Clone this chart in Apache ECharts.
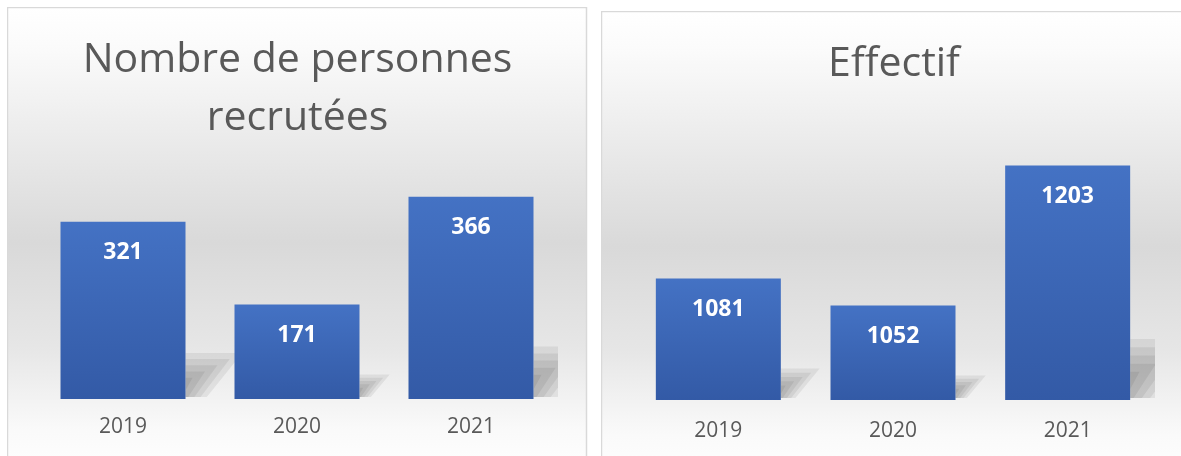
<!DOCTYPE html>
<html>
<head>
<meta charset="utf-8">
<script src="https://cdn.jsdelivr.net/npm/echarts@6/dist/echarts.min.js"></script>
<style>
  html, body { margin: 0; padding: 0; background: #ffffff; overflow: hidden; }
  #chart-container-1 { position: absolute; left: 7px; top: 7px; width: 581px; height: 449px; }
  #chart-container-2 { position: absolute; left: 601px; top: 11px; width: 586px; height: 445px; }
</style>
</head>
<body>
<div id="chart-container-1"></div>
<div id="chart-container-2"></div>
<script>
// Données
var categories = ['2019', '2020', '2021'];
var recrutes = [321, 171, 366];
var effectif = [1081, 1052, 1203];
var titre1 = 'Nombre de personnes\nrecrutées';
var titre2 = 'Effectif';

var barWidth = 125;

// Fond du panneau (dégradé blanc -> gris -> blanc)
function panneau(w, h) {
    return {
        type: 'rect',
        silent: true,
        z: -10,
        shape: { x: 0.5, y: 0.5, width: w, height: h },
        style: {
            fill: new echarts.graphic.LinearGradient(0, 0, 0, 1, [
                { offset: 0, color: '#ffffff' },
                { offset: 0.08, color: '#fbfbfb' },
                { offset: 0.5, color: '#d9d9d9' },
                { offset: 0.72, color: '#e6e6e6' },
                { offset: 0.9, color: '#fafafa' },
                { offset: 1, color: '#ffffff' }
            ]),
            stroke: '#d9d9d9',
            lineWidth: 1.5
        }
    };
}

// Ombre portée derrière chaque barre (couches superposées pour un bord flou)
function ombre(baseValue) {
    return function (params, api) {
        var top = api.coord([api.value(0), api.value(1)]);
        var base = api.coord([api.value(0), baseValue]);
        var h = base[1] - top[1];
        var x1 = top[0] + barWidth / 2;
        var y0 = base[1];
        var couches = [];
        for (var k = 0; k < 5; k++) {
            var d = k * 0.035 * h;
            couches.push({
                type: 'polygon',
                shape: {
                    points: [
                        [x1, y0 - 2],
                        [x1, y0 - 0.26 * h + d],
                        [x1 + 0.32 * h - 2 * d, y0 - 0.26 * h + d],
                        [x1 + 0.12 * h - d, y0 - 2]
                    ]
                },
                style: { fill: 'rgba(0,0,0,0.065)' }
            });
        }
        return { type: 'group', children: couches };
    };
}

function options(titre, valeurs, yMin, yMax, grid, titreTop, labelMargin, panneauW) {
    return {
        animation: false,
        graphic: [panneau(panneauW, 470)],
        title: {
            text: titre,
            left: 'center',
            top: titreTop,
            padding: 0,
            textStyle: {
                fontFamily: 'Open Sans',
                fontWeight: 'normal',
                fontSize: 41,
                lineHeight: 58,
                color: '#595959'
            }
        },
        grid: grid,
        xAxis: {
            type: 'category',
            data: categories,
            axisLine: { show: false },
            axisTick: { show: false },
            axisLabel: {
                margin: labelMargin,
                fontFamily: 'Open Sans',
                fontSize: 21,
                color: '#595959'
            }
        },
        yAxis: {
            type: 'value',
            min: yMin,
            max: yMax,
            show: false,
            splitLine: { show: false }
        },
        series: [
            {
                type: 'custom',
                renderItem: ombre(yMin),
                data: categories.map(function (c, i) { return [i, valeurs[i]]; }),
                encode: { x: 0, y: 1 },
                clip: true,
                z: 1,
                silent: true
            },
            {
                type: 'bar',
                data: valeurs,
                barWidth: barWidth,
                z: 2,
                itemStyle: {
                    color: new echarts.graphic.LinearGradient(0, 0, 0, 1, [
                        { offset: 0, color: '#4472c4' },
                        { offset: 1, color: '#335aa6' }
                    ])
                },
                label: {
                    show: true,
                    position: 'insideTop',
                    distance: 19,
                    fontFamily: 'Open Sans',
                    fontWeight: 'bold',
                    fontSize: 23,
                    color: '#ffffff'
                }
            }
        ]
    };
}

// Premier graphique
var chartDom1 = document.getElementById('chart-container-1');
var myChart1 = echarts.init(chartDom1);
myChart1.setOption(options(titre1, recrutes, 0, 400,
    { left: 29, width: 522, top: 171, height: 221 }, 24, 18, 579));

// Deuxième graphique
var chartDom2 = document.getElementById('chart-container-2');
var myChart2 = echarts.init(chartDom2);
myChart2.setOption(options(titre2, effectif, 950, 1250,
    { left: 30, width: 524, top: 111, height: 278 }, 24, 21, 600));
</script>
</body>
</html>
